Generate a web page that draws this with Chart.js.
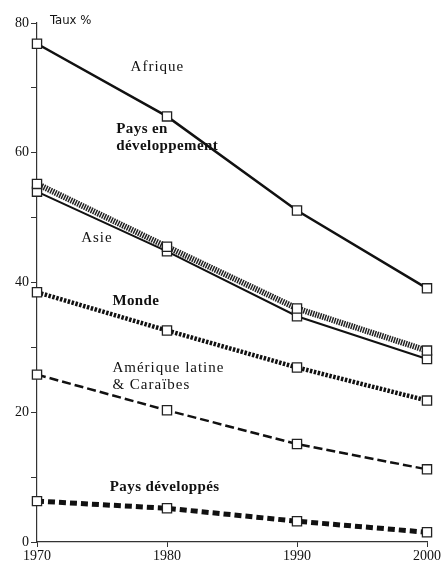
<!DOCTYPE html>
<html>
<head>
<meta charset="utf-8">
<script src="https://cdn.jsdelivr.net/npm/chart.js@4"></script>
<style>
  html, body { margin: 0; padding: 0; background: #fff; }
  #wrap { width: 442px; height: 571px; position: relative; }
</style>
</head>
<body>
<div id="wrap"><canvas id="chart"></canvas></div>
<script>
  /* ========= Data ========= */
  const years = [1970, 1980, 1990, 2000];
  const afrique = [76.8, 65.6, 51.1, 39.1];
  const paysEnDev = [55.2, 45.5, 36.0, 29.5];
  const asie = [54.0, 44.8, 34.8, 28.2];
  const monde = [38.5, 32.6, 26.9, 21.8];
  const ameriqueLatine = [25.8, 20.3, 15.1, 11.2];
  const paysDeveloppes = [6.3, 5.2, 3.2, 1.5];
  const yTicks = [0, 20, 40, 60, 80];

  const serif = "'Liberation Serif', 'DejaVu Serif', serif";

  function pts(arr) { return arr.map((v, i) => ({ x: years[i], y: v })); }

  function series(label, arr, width, dash, color) {
    return {
      label: label,
      data: pts(arr),
      borderColor: color || "#111",
      borderWidth: width,
      borderDash: dash,
      borderCapStyle: "butt",
      tension: 0,
      fill: false,
      clip: false,
      pointStyle: "rect",
      pointRadius: 6.5,
      pointBackgroundColor: "#fff",
      pointBorderColor: "#222",
      pointBorderWidth: 1.3
    };
  }

  /* ========= Text labels on the plot ========= */
  const notes = [
    { lines: ["Afrique"], x: 1977.2, y: 73.2, bold: false },
    { lines: ["Pays en", "développement"], x: 1976.1, y: 63.6, bold: true },
    { lines: ["Asie"], x: 1973.4, y: 46.9, bold: false },
    { lines: ["Monde"], x: 1975.8, y: 37.2, bold: true },
    { lines: ["Amérique latine", "& Caraïbes"], x: 1975.8, y: 26.8, bold: false },
    { lines: ["Pays développés"], x: 1975.6, y: 8.4, bold: true }
  ];

  const notesPlugin = {
    id: "notes",
    afterDraw(chart) {
      const ctx = chart.ctx;
      const xs = chart.scales.x, ys = chart.scales.y;
      ctx.save();
      ctx.fillStyle = "#111";
      ctx.textBaseline = "middle";
      ctx.textAlign = "left";
      notes.forEach(n => {
        ctx.font = (n.bold ? "bold " : "") + "15px " + serif;
        ctx.letterSpacing = n.bold ? "0.4px" : "1px";
        const px = xs.getPixelForValue(n.x);
        const py = ys.getPixelForValue(n.y);
        n.lines.forEach((t, i) => ctx.fillText(t, px, py + i * 17));
      });
      // axis title
      ctx.letterSpacing = "0px";
      ctx.font = "13px 'Liberation Sans Narrow', 'DejaVu Sans Condensed', sans-serif";
      ctx.fillText("Taux %", xs.left + 13, ys.getPixelForValue(80) - 2);
      ctx.restore();
    }
  };

  /* ========= Chart ========= */
  const chart = new Chart(document.getElementById("chart"), {
    type: "line",
    data: {
      datasets: [
        series("Afrique", afrique, 2.5, []),
        series("Pays en développement", paysEnDev, 6, [1.5, 1], "#222"),
        series("Asie", asie, 2, []),
        series("Monde", monde, 4.5, [2.5, 1.5]),
        series("Amérique latine & Caraïbes", ameriqueLatine, 2.5, [9, 4]),
        series("Pays développés", paysDeveloppes, 5, [7, 4])
      ]
    },
    options: {
      responsive: true,
      maintainAspectRatio: false,
      animation: false,
      layout: { padding: { top: 23, right: 15, bottom: 0, left: 0 } },
      plugins: { legend: { display: false }, tooltip: { enabled: false } },
      scales: {
        x: {
          type: "linear",
          min: 1970,
          max: 2000,
          afterBuildTicks: s => { s.ticks = years.map(v => ({ value: v })); },
          afterFit: s => { s.height = 29; },
          border: { display: true, color: "#333", width: 1.2 },
          grid: { drawOnChartArea: false, drawTicks: true, tickLength: 5, color: "#333" },
          ticks: {
            color: "#111",
            font: { family: serif, size: 14 },
            padding: 1,
            maxRotation: 0,
            callback: v => String(v)
          }
        },
        y: {
          min: 0,
          max: 80,
          afterBuildTicks: s => {
            const t = [];
            for (let v = 0; v <= 80; v += 10) t.push({ value: v });
            s.ticks = t;
          },
          afterFit: s => { s.width = 37; },
          border: { display: true, color: "#333", width: 1.2 },
          grid: { drawOnChartArea: false, drawTicks: true, tickLength: 6, color: "#333" },
          ticks: {
            color: "#111",
            font: { family: serif, size: 14 },
            padding: 2,
            autoSkip: false,
            callback: v => yTicks.includes(v) ? String(v) : ""
          }
        }
      }
    },
    plugins: [notesPlugin]
  });
</script>
</body>
</html>
